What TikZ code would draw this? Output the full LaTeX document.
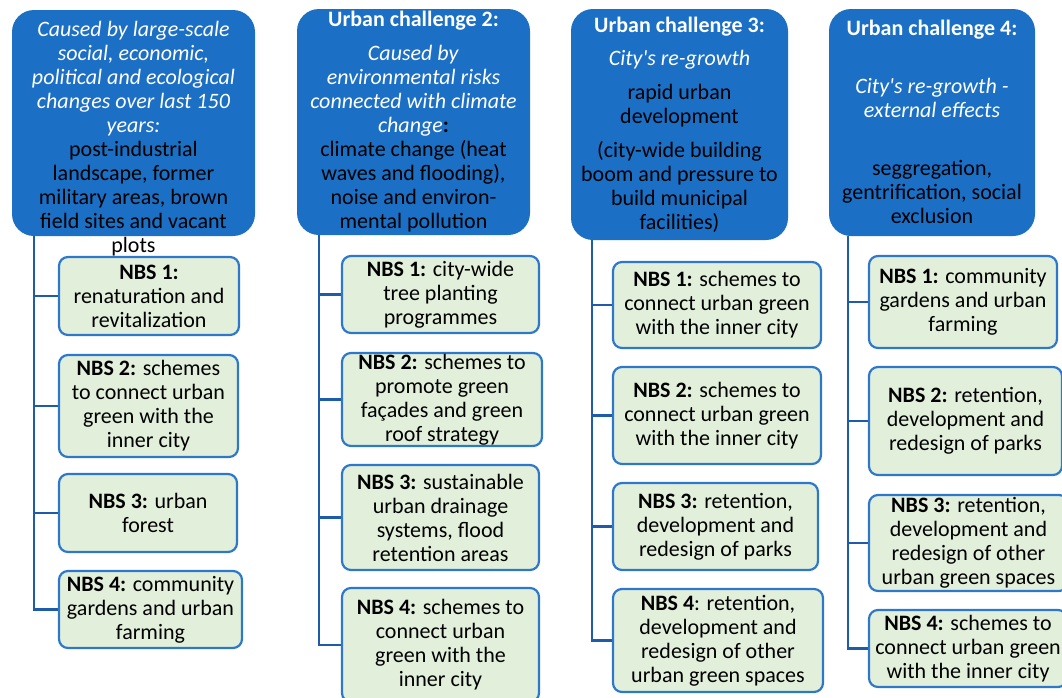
\documentclass[tikz,border=0pt]{standalone}
\usepackage{fontspec}
\setmainfont{Carlito}
\definecolor{hblue}{RGB}{27,111,196}
\definecolor{nbsline}{RGB}{46,120,204}
\definecolor{nbsfill}{RGB}{226,239,218}
\definecolor{connc}{RGB}{30,92,170}
\newcommand\wit[1]{\textcolor{white}{\textit{#1}}}
\newcommand\wbf[1]{\textcolor{white}{\textbf{#1}}}
\begin{document}
\begin{tikzpicture}[x=1pt,y=-1pt,
  hdr/.style={fill=hblue, rounded corners=22pt, inner sep=0pt},
  nbs/.style={draw=nbsline, fill=nbsfill, line width=2.2pt, rounded corners=9pt,
    inner sep=0pt, align=center, font=\fontsize{22}{24}\selectfont},
  conn/.style={draw=connc, line width=2.6pt},
  htxt/.style={align=center, inner sep=0pt, font=\fontsize{22}{24}\selectfont}]
\useasboundingbox (0,0) rectangle (1062,697);
% headers
\node[hdr, minimum width=243pt, minimum height=226pt] (h1) at (133.5,123) {};
\node[hdr, minimum width=233pt, minimum height=226pt] (h2) at (413.5,122) {};
\node[hdr, minimum width=217pt, minimum height=231pt] (h3) at (679.5,124.5) {};
\node[hdr, minimum width=206pt, minimum height=227pt] (h4) at (932,122.5) {};
\node[htxt] (t1) at (133.5,138.5) {\wit{Caused by large-scale}\\ \wit{social, economic,}\\ \wit{political and ecological}\\ \wit{changes over last 150}\\ \wit{years:}\\ post-industrial\\ landscape, former\\ military areas, brown\\ field sites and vacant\\ plots};
\node[htxt] (t2) at (413.5,121.5) {\wbf{Urban challenge 2:}\\[10pt] \wit{Caused by}\\ \wit{environmental risks}\\ \wit{connected with climate}\\ \wit{change}\textbf{:}\\ climate change (heat\\ waves and flooding),\\ noise and environ-\\ mental pollution};
\node[htxt] (t3) at (679.5,124.5) {\wbf{Urban challenge 3:}\\[9pt] \wit{City\textquotesingle s re-growth}\\[10pt] rapid urban\\ development\\[10pt] (city-wide building\\ boom and pressure to\\ build municipal\\ facilities)};
\node[htxt] (t4) at (932,122) {\wbf{Urban challenge 4:}\\[34pt] \wit{City\textquotesingle s re-growth -}\\ \wit{external effects}\\[34pt] seggregation,\\ gentrification, social\\ exclusion};
% column 1
\node[nbs, minimum width=180pt, minimum height=78pt] (n11) at (149,296) {\textbf{NBS 1:}\\ renaturation and\\ revitalization};
\node[nbs, minimum width=179pt, minimum height=102pt] (n12) at (148.5,406) {\textbf{NBS 2:} schemes\\ to connect urban\\ green with the\\ inner city};
\node[nbs, minimum width=178pt, minimum height=78pt] (n13) at (148,513) {\textbf{NBS 3:} urban\\ forest};
\node[nbs, minimum width=183pt, minimum height=77pt] (n14) at (150.5,609.5) {\textbf{NBS 4:} community\\ gardens and urban\\ farming};
% column 2
\node[nbs, minimum width=197pt, minimum height=77pt] (n21) at (440.5,294.5) {\textbf{NBS 1:} city-wide\\ tree planting\\ programmes};
\node[nbs, minimum width=200pt, minimum height=93pt] (n22) at (442,399.5) {\textbf{NBS 2:} schemes to\\ promote green\\ façades and green\\ roof strategy};
\node[nbs, minimum width=197pt, minimum height=105pt] (n23) at (440.5,517.5) {\textbf{NBS 3:} sustainable\\ urban drainage\\ systems, flood\\ retention areas};
\node[nbs, minimum width=197pt, minimum height=114pt] (n24) at (440.5,645) {\textbf{NBS 4:} schemes to\\ connect urban\\ green with the\\ inner city};
% column 3
\node[nbs, minimum width=208pt, minimum height=86pt] (n31) at (717,305) {\textbf{NBS 1:} schemes to\\ connect urban green\\ with the inner city};
\node[nbs, minimum width=208pt, minimum height=97pt] (n32) at (717,415.5) {\textbf{NBS 2:} schemes to\\ connect urban green\\ with the inner city};
\node[nbs, minimum width=205pt, minimum height=87pt] (n33) at (715.5,526.5) {\textbf{NBS 3:} retention,\\ development and\\ redesign of parks};
\node[nbs, minimum width=210pt, minimum height=103pt] (n34) at (718,640.5) {\textbf{NBS 4}: retention,\\ development and\\ redesign of other\\ urban green spaces};
% column 4
\node[nbs, minimum width=188pt, minimum height=92pt] (n41) at (963,302) {\textbf{NBS 1:} community\\ gardens and urban\\ farming};
\node[nbs, minimum width=193pt, minimum height=108pt] (n42) at (965.5,421) {\textbf{NBS 2:} retention,\\ development and\\ redesign of parks};
\node[nbs, minimum width=199pt, minimum height=96pt] (n43) at (968.5,543) {\textbf{NBS 3:} retention,\\ development and\\ redesign of other\\ urban green spaces};
\node[nbs, minimum width=198pt, minimum height=77pt] (n44) at (968,648.5) {\textbf{NBS 4:} schemes to\\ connect urban green\\ with the inner city};
% connectors
\coordinate (k1) at ([xshift=22pt]h1.south west);
\coordinate (k2) at ([xshift=22pt]h2.south west);
\coordinate (k3) at ([xshift=21pt]h3.south west);
\coordinate (k4) at ([xshift=19pt]h4.south west);
\foreach \c in {1,2,3,4}{
  \draw[conn] (k\c) |- (n\c4.west);
  \foreach \r in {1,2,3}{
    \draw[conn] (k\c |- n\c\r.west) -- (n\c\r.west);
  }
}
\end{tikzpicture}
\end{document}
